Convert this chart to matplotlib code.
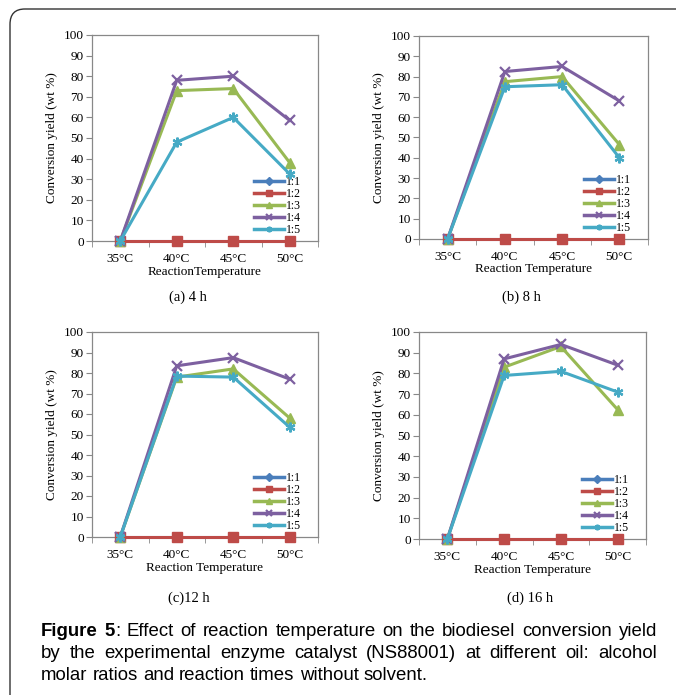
import numpy as np
import matplotlib
matplotlib.use("Agg")
import matplotlib.pyplot as plt
from matplotlib.patches import FancyBboxPatch

# ─── data ────────────────────────────────────────────────────────────────────
temps  = ["35°C", "40°C", "45°C", "50°C"]
ratios = ["1:1", "1:2", "1:3", "1:4", "1:5"]

# conversion yield (wt %) per ratio, one list per panel
yield_4h = [
    [0, 0, 0, 0],
    [0, 0, 0, 0],
    [0, 73, 74, 38],
    [0, 78, 80, 58.5],
    [0, 48, 60, 32.5],
]
yield_8h = [
    [0, 0, 0, 0],
    [0, 0, 0, 0],
    [0, 77.5, 80, 46.5],
    [0, 82.5, 85, 68],
    [0, 75, 76, 40],
]
yield_12h = [
    [0, 0, 0, 0],
    [0, 0, 0, 0],
    [0, 78, 82, 58],
    [0, 83.5, 87.5, 77],
    [0, 78.5, 78, 53.5],
]
yield_16h = [
    [0, 0, 0, 0],
    [0, 0, 0, 0],
    [0, 83, 93, 62.5],
    [0, 87, 94, 84],
    [0, 79, 81, 71],
]

panel_titles = ["(a) 4 h", "(b) 8 h", "(c)12 h", "(d) 16 h"]
xlabels = ["ReactionTemperature", "Reaction Temperature",
           "Reaction Temperature", "Reaction Temperature"]

colors  = ["#4A7EBB", "#BE4B48", "#98B954", "#7D60A0", "#46AAC5"]
markers = ["D", "s", "^", "x", (6, 2, 0)]
msizes  = [3, 7, 6.5, 7, 7]

SERIF = "Liberation Serif"
SANS = "Liberation Sans"
W, H = 676, 695

fig = plt.figure(figsize=(W / 100, H / 100), dpi=100)

def px_box(l, t, r, b):
    return [l / W, 1 - b / H, (r - l) / W, (b - t) / H]

boxes = [px_box(92, 35, 318, 241), px_box(419, 36, 648, 239),
         px_box(92, 332, 318, 537), px_box(419, 332, 646, 539)]
title_pos = [(188, 297), (521, 297), (189, 598), (530, 598)]
datasets = [yield_4h, yield_8h, yield_12h, yield_16h]

x = np.arange(len(temps))
for box, data, title, xl, tp in zip(boxes, datasets, panel_titles, xlabels, title_pos):
    ax = fig.add_axes(box)
    for i, r in enumerate(ratios):
        ax.plot(x, data[i], color=colors[i], lw=2.2, marker=markers[i],
                ms=msizes[i], mew=1.6 if i >= 3 else 1, label=r, clip_on=False,
                zorder=3 + i)
    ax.set_xlim(-0.5, 3.5)
    ax.set_ylim(0, 100)
    ax.set_yticks(np.arange(0, 101, 10))
    ax.set_xticks(x)
    ax.set_xticklabels(temps)
    ax.set_xticks(np.arange(-0.5, 4, 1), minor=True)
    ax.tick_params(axis="x", which="major", length=0, pad=9)
    ax.tick_params(axis="x", which="minor", length=4, color="#888888", direction="out")
    ax.tick_params(axis="y", length=4, color="#888888", direction="out", pad=2)
    for lab in ax.get_xticklabels() + ax.get_yticklabels():
        lab.set_fontfamily(SERIF)
        lab.set_fontsize(9.5)
    for s in ax.spines.values():
        s.set_color("#888888")
        s.set_linewidth(0.9)
    ax.set_xlabel(xl, family=SERIF, fontsize=9.5, labelpad=0)
    ax.set_ylabel("Conversion yield (wt %)", family=SERIF, fontsize=9.5, labelpad=4)
    leg = ax.legend(loc="lower right", bbox_to_anchor=(0.955, -0.01), frameon=False,
                    prop={"family": SERIF, "size": 8.5}, handlelength=2.6,
                    handletextpad=0.1, labelspacing=0.0, borderaxespad=0.2)
    for h in leg.legend_handles:
        h.set_markersize(4)
        h.set_linewidth(2.5)
    fig.text(tp[0] / W, 1 - tp[1] / H, title, family=SERIF, fontsize=10.5,
             ha="center", va="center")

# ─── caption, justified like the journal page ───────────────────────────────
caption_lines = [
    [[("Figure", "bold")], [("5", "bold"), (":", "normal")], "Effect", "of", "reaction",
     "temperature", "on", "the", "biodiesel", "conversion", "yield"],
    ["by", "the", "experimental", "enzyme", "catalyst", "(NS88001)", "at", "different",
     "oil:", "alcohol"],
    ["molar", "ratios", "and", "reaction", "times", "without", "solvent."],
]
CAP_FS = 13.4
cap_x0, cap_x1 = 41, 657
cap_y = [632, 654, 676]
renderer = fig.canvas.get_renderer()

def text_width(s, wt="normal"):
    t = fig.text(0, 0, s, family=SANS, fontsize=CAP_FS, weight=wt)
    wd = t.get_window_extent(renderer).width
    t.remove()
    return wd

space_w = text_width("a b") - text_width("ab")

for li, (words, ypx) in enumerate(zip(caption_lines, cap_y)):
    groups = []
    for w in words:
        pieces = w if isinstance(w, list) else [(w, "normal")]
        groups.append([(txt, wt, text_width(txt, wt)) for txt, wt in pieces])
    total = sum(p[2] for g in groups for p in g)
    if li < len(caption_lines) - 1:
        gap = (cap_x1 - cap_x0 - total) / (len(groups) - 1)
    else:
        gap = space_w
    xp = cap_x0
    for g in groups:
        for txt, wt, wd in g:
            fig.text(xp / W, 1 - ypx / H, txt, family=SANS, fontsize=CAP_FS,
                     weight=wt, va="center", ha="left")
            xp += wd
        xp += gap

# rounded page border (only top and left visible)
border = FancyBboxPatch((10 / W, -0.2), 1.2, (H - 9) / H + 0.2,
                        boxstyle="round,pad=0,rounding_size=0.022",
                        transform=fig.transFigure, fill=False,
                        edgecolor="#333333", lw=1.0)
fig.patches.append(border)

fig.savefig("out.png", dpi=100)
